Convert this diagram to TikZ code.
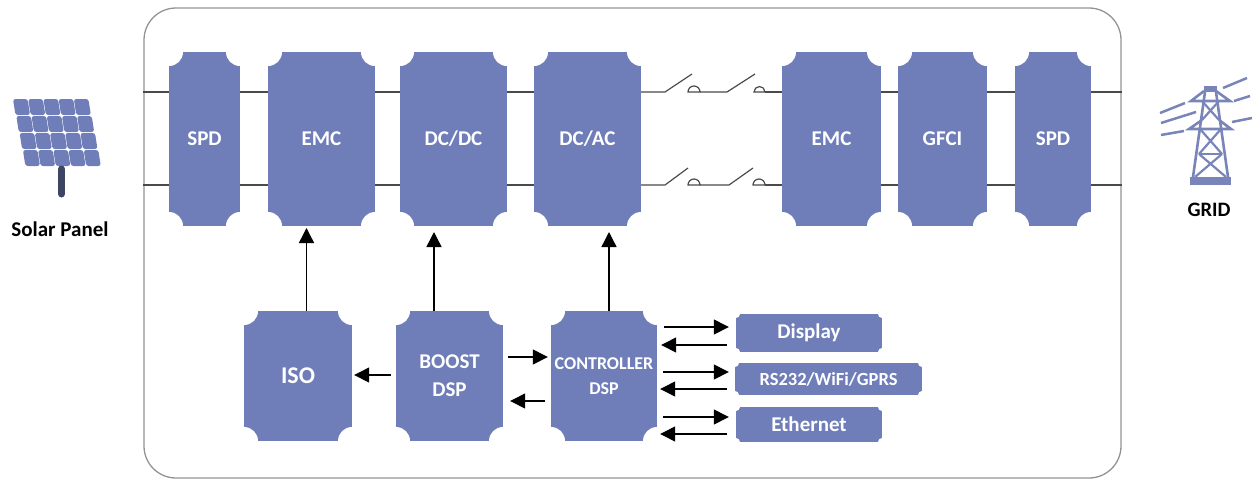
\documentclass[tikz,border=0pt]{standalone}
\usepackage{fontspec}
\setmainfont{Carlito}
\usetikzlibrary{arrows.meta}
\definecolor{blockblue}{HTML}{6F7DB8}
\definecolor{towerblue}{HTML}{7985B8}
\definecolor{wiregray}{HTML}{4A4A4A}
\tikzset{
    notch/.style={path picture={
        \foreach \c in {north west,north east,south west,south east}{
            \fill[white] (path picture bounding box.\c) circle (#1);
        }
    }},
    blockbox/.style={rectangle,fill=blockblue,text=white,inner sep=0pt,align=center,
        font=\fontsize{21}{28}\selectfont\bfseries,notch=14pt},
    portbox/.style={blockbox,notch=4pt},
    wire/.style={draw=wiregray,line width=1.3pt},
    sig/.style={-{Triangle[length=15pt,width=15pt]},black,line width=1.4pt},
    contact/.style={draw=wiregray,line width=1.2pt}
}
\begin{document}
\begin{tikzpicture}[x=1pt,y=-1pt]
    \useasboundingbox (0,0) rectangle (1254,480);

    \node (frame) [draw=gray!85,line width=1.3pt,rounded corners=32pt,minimum width=977pt,minimum height=470pt] at (632.5,243) {};

    % top row
    \node (spdin) [blockbox,minimum width=71pt,minimum height=174pt] at (204.5,139) {SPD};
    \node (emcin) [blockbox,minimum width=107pt,minimum height=174pt] at (321.5,139) {EMC};
    \node (dcdc) [blockbox,minimum width=107pt,minimum height=174pt] at (453.5,139) {DC/DC};
    \node (dcac) [blockbox,minimum width=107pt,minimum height=174pt] at (587.5,139) {DC/AC};
    \node (emcout) [blockbox,minimum width=99pt,minimum height=174pt] at (831.5,139) {EMC};
    \node (gfci) [blockbox,minimum width=89pt,minimum height=174pt] at (942.5,139) {GFCI};
    \node (spdout) [blockbox,minimum width=76pt,minimum height=174pt] at (1053,139) {SPD};

    % bottom row
    \node (iso) [blockbox,minimum width=108pt,minimum height=130pt,font=\fontsize{24}{28}\selectfont\bfseries] at (298,376) {ISO};
    \node (boost) [blockbox,minimum width=107pt,minimum height=130pt] at (449.5,376) {BOOST\\DSP};
    \node (ctrl) [blockbox,minimum width=106pt,minimum height=130pt,font=\fontsize{18}{25}\selectfont\bfseries] at (604,376) {CONTROLLER\\DSP};
    \node (display) [portbox,minimum width=146pt,minimum height=38pt] at (809,333) {Display};
    \node (rs) [portbox,minimum width=187pt,minimum height=32pt,font=\fontsize{18.5}{22}\selectfont\bfseries] at (828.5,379) {RS232/WiFi/GPRS};
    \node (eth) [portbox,minimum width=146pt,minimum height=35pt] at (809,424.5) {Ethernet};

    \coordinate (upper) at (0,92);
    \coordinate (lower) at (0,185);

    % wires
    \foreach \h in {upper,lower}{
        \draw[wire] (frame.west |- \h) -- (spdin.west |- \h);
        \draw[wire] (spdin.east |- \h) -- (emcin.west |- \h);
        \draw[wire] (emcin.east |- \h) -- (dcdc.west |- \h);
        \draw[wire] (dcdc.east |- \h) -- (dcac.west |- \h);
        \draw[wire] (emcout.east |- \h) -- (gfci.west |- \h);
        \draw[wire] (gfci.east |- \h) -- (spdout.west |- \h);
        \draw[wire] (spdout.east |- \h) -- (frame.east |- \h);
    }

    % switches
    \draw[contact] (dcac.east |- upper) -- (665,92) -- (692,74);
    \draw[contact] (688,92) arc (180:0:6pt) -- cycle;
    \draw[contact] (700,92) -- (727,92) -- (755,74);
    \draw[contact] (754,92) arc (180:0:5.5pt) -- cycle;
    \draw[contact] (765,92) -- (emcout.west |- upper);
    \draw[contact] (dcac.east |- lower) -- (665,185) -- (688,168);
    \draw[contact] (688,185) arc (180:0:6pt) -- cycle;
    \draw[contact] (700,185) -- (729,185) -- (753,168);
    \draw[contact] (753,185) arc (180:0:6pt) -- cycle;
    \draw[contact] (765,185) -- (emcout.west |- lower);

    % signals
    \draw[sig] (iso.north -| 306.5,0) -- (306.5,228);
    \draw[sig] (boost.north -| 434,0) -- (434,232);
    \draw[sig] (ctrl.north -| 609,0) -- (609,232);
    \draw[sig,shorten >=3pt,shorten <=5pt] (boost.east |- 0,357) -- (ctrl.west |- 0,357);
    \draw[sig,shorten >=7pt,shorten <=6pt] (ctrl.west |- 0,401) -- (boost.east |- 0,401);
    \draw[sig,shorten >=2pt,shorten <=5pt] (boost.west |- 0,375) -- (iso.east |- 0,375);
    \draw[sig,shorten >=7pt,shorten <=7pt] (ctrl.east |- 0,327) -- (display.west |- 0,327);
    \draw[sig,shorten >=4pt,shorten <=9pt] (display.west |- 0,345) -- (ctrl.east |- 0,345);
    \draw[sig,shorten >=6pt,shorten <=6pt] (ctrl.east |- 0,372) -- (rs.west |- 0,372);
    \draw[sig,shorten >=3pt,shorten <=8pt] (rs.west |- 0,389) -- (ctrl.east |- 0,389);
    \draw[sig,shorten >=7pt,shorten <=6pt] (ctrl.east |- 0,417) -- (eth.west |- 0,417);
    \draw[sig,shorten >=3pt,shorten <=9pt] (eth.west |- 0,434) -- (ctrl.east |- 0,434);

    % solar panel
    \foreach \r in {0,...,3}{
        \foreach \c in {0,...,4}{
            \fill[blockblue,rounded corners=2.5pt] ({13+15.2*\c+3.3*\r},{99+17*\r}) -- ++(14.6,0) -- ++(2.5,16) -- ++(-14.6,0) -- cycle;
        }
    }
    \draw[draw=black!45!blockblue,line width=7pt,line cap=round] (61.5,169) -- (61.5,194);
    \node (solar) [font=\fontsize{21}{24}\selectfont\bfseries] at (60,229) {Solar Panel};

    % tower
    \fill[towerblue] (1190,177) rectangle (1231,185);
    \fill[towerblue] (1204,86) rectangle (1217,92);
    \draw[towerblue,line width=2.6pt] (1205,92) -- (1193,177) (1216,92) -- (1228,177);
    \draw[towerblue,line width=2.6pt] (1204,91) -- (1191,101) -- (1230,101) -- (1216,91);
    \draw[towerblue,line width=2.6pt] (1202,120) -- (1189,129) -- (1231,129) -- (1219,120);
    \draw[towerblue,line width=2.2pt] (1202,101) -- (1219,120) (1219,101) -- (1202,120);
    \draw[towerblue,line width=2.2pt] (1200,129) -- (1222,154) (1221,129) -- (1199,154);
    \draw[towerblue,line width=2.2pt] (1199,154) -- (1226,177) (1222,154) -- (1195,177);
    \draw[towerblue,line width=2.4pt] (1199,154) -- (1222,154);
    \draw[towerblue,line width=2.5pt] (1160,113) -- (1185,103) (1161,123) -- (1196,112) (1161,135) -- (1184,131);
    \draw[towerblue,line width=2.5pt] (1223,88) -- (1247,78) (1234,101) -- (1250,96) (1232,122) -- (1252,118);
    \node (grid) [font=\fontsize{20.5}{24}\selectfont\bfseries] at (1209,210) {GRID};
\end{tikzpicture}
\end{document}
